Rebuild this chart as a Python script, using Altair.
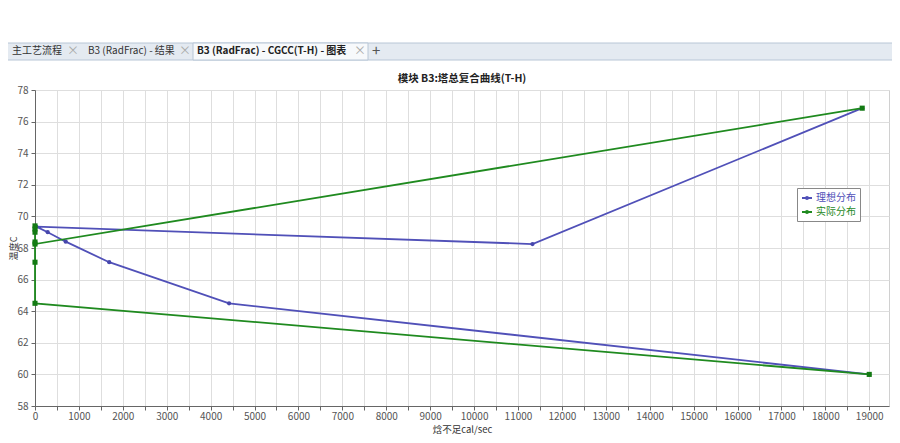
import altair as alt
import pandas as pd

# ---- data ----
ideal_h = [19000, 4420, 1690, 700, 290, 30, 11330, 18840]
ideal_t = [60.0, 64.5, 67.1, 68.4, 69.0, 69.35, 68.25, 76.85]

actual_h = [18840, 0, 0, 0, 0, 0, 0, 0, 19000]
actual_t = [76.85, 68.25, 68.38, 69.0, 69.2, 69.4, 67.1, 64.5, 60.0]

series_names = ["理想分布", "实际分布"]
series_colors = ["#5050b8", "#1f8a1f"]
marker_colors = ["#4646ac", "#137a13"]

x_ticks = list(range(0, 19001, 500))
y_ticks = list(range(58, 79, 2))

tab_labels = ["主工艺流程", "B3 (RadFrac) - 结果", "B3 (RadFrac) - CGCC(T-H) - 图表"]

rows = []
for i, (h, t) in enumerate(zip(ideal_h, ideal_t)):
    rows.append({"H": h, "T": t, "s": series_names[0], "o": i})
for i, (h, t) in enumerate(zip(actual_h, actual_t)):
    rows.append({"H": h, "T": t, "s": series_names[1], "o": i})
df = pd.DataFrame(rows)

FONT = "Noto Sans CJK SC"

xenc = alt.X("H:Q", title="焓不足cal/sec",
             scale=alt.Scale(domain=[0, 19450], nice=False, zero=False),
             axis=alt.Axis(values=x_ticks, format="d", labelFlush=False, labelOverlap=False,
                           labelExpr="datum.value % 1000 == 0 ? datum.label : ''",
                           labelPadding=1, titleY=23.5, titleBaseline="middle",
                           titleFontSize=9.5))
yenc = alt.Y("T:Q", title="温度C",
             scale=alt.Scale(domain=[58, 78], nice=False, zero=False),
             axis=alt.Axis(values=y_ticks, labelFlush=False, labelOverlap=False,
                           titleX=-22, titleBaseline="middle", titleFontSize=9))

base = alt.Chart(df)

legend = alt.Legend(orient="none", legendX=762, legendY=98, padding=4,
                    strokeColor="#888", fillColor="white",
                    labelFont=FONT, labelFontSize=10,
                    labelColor={"expr": "datum.label == '理想分布' ? '#5050b8' : '#1f8a1f'"},
                    symbolType="M-1,0H1M0.22,0A0.22,0.22,0,1,1,-0.22,0A0.22,0.22,0,1,1,0.22,0",
                    symbolSize=100, symbolStrokeWidth=1.8, rowPadding=3, labelOffset=3)

lines = base.mark_line(strokeWidth=1.8).encode(
    x=xenc, y=yenc,
    color=alt.Color("s:N", scale=alt.Scale(domain=series_names, range=series_colors),
                    title="", legend=legend),
    order="o:Q", detail="s:N")

pts_ideal = base.transform_filter(alt.datum.s == series_names[0]).mark_point(
    filled=True, opacity=1, shape="circle", size=18, color=marker_colors[0]).encode(x=xenc, y=yenc)
pts_actual = base.transform_filter(alt.datum.s == series_names[1]).mark_point(
    filled=True, opacity=1, shape="square", size=26, color=marker_colors[1]).encode(x=xenc, y=yenc)

# screenshot tab strip (decorative)
one = pd.DataFrame({"a": [0]})
tab_bar = alt.Chart(one).mark_rect(color="#e4eaf1", stroke="#b8c6d6").encode(
    x=alt.value(-35), x2=alt.value(870), y=alt.value(-47), y2=alt.value(-30))
active_tab = alt.Chart(one).mark_rect(color="#f7f9fb", stroke="#b8c6d6").encode(
    x=alt.value(158), x2=alt.value(333), y=alt.value(-47), y2=alt.value(-30))

def tab_text(label, px, bold=False, size=10, color="#333"):
    return alt.Chart(one).mark_text(align="left", baseline="middle", font=FONT, fontSize=size,
                                    fontWeight="bold" if bold else "normal", color=color,
                                    text=label).encode(x=alt.value(px), y=alt.value(-39))

tab_layers = [tab_text(tab_labels[0], -23), tab_text(tab_labels[1], 53),
              tab_text(tab_labels[2], 162, bold=True, color="#222")]
for px, s, sz, c in [(32, "×", 12, "#aaa"), (144, "×", 12, "#aaa"), (319, "×", 12, "#aaa"),
                     (337, "+", 15, "#555")]:
    tab_layers.append(tab_text(s, px, size=sz, color=c))

chart = alt.layer(lines, pts_ideal, pts_actual,
                  tab_bar, active_tab, *tab_layers).properties(
    width=854, height=316,
    title=alt.TitleParams("模块 B3:塔总复合曲线(T-H)", font=FONT, fontSize=10.5, fontWeight="bold",
                          color="#222", anchor="middle", offset=4, dy=46),
    padding={"left": 27, "top": 82, "right": 3, "bottom": 29},
    autosize=alt.AutoSizeParams(type="none"),
    background="white",
).configure_axis(
    labelFont=FONT, labelFontSize=10, labelColor="#555",
    titleFont=FONT, titleFontSize=10, titleColor="#333", titleFontWeight="normal",
    gridColor="#dedede", gridWidth=1, domainColor="#666", tickColor="#666", tickSize=4,
    labelPadding=3,
).configure_view(stroke="#d0d0d0")

chart.save("out.html", embed_options={"renderer": "svg", "actions": False})
